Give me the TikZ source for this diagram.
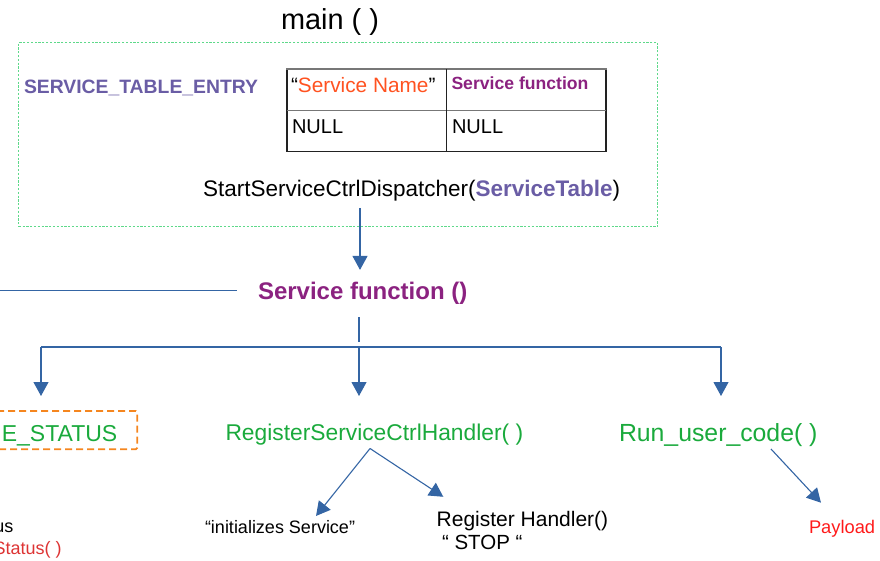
\documentclass[tikz,border=0pt]{standalone}
\usepackage{fontspec}
\setmainfont{Liberation Sans}
\usetikzlibrary{arrows.meta,calc}
\definecolor{linkblue}{HTML}{3465A4}
\definecolor{txtgreen}{HTML}{1AAA3C}
\definecolor{dashorange}{HTML}{F5861F}
\definecolor{fnpurple}{HTML}{8B2280}
\definecolor{stepurple}{HTML}{6A5DA5}
\definecolor{snameorange}{HTML}{FF5220}
\definecolor{payred}{HTML}{FF1A1A}
\definecolor{statred}{HTML}{DD3333}
\definecolor{dotgreen}{HTML}{5ED98A}
\definecolor{tblgrey}{HTML}{777777}
\definecolor{tbldark}{HTML}{222222}
\newcommand\fsz[1]{\fontsize{#1}{#1}\selectfont}
\tikzset{
  lbl/.style={inner sep=0pt, outer sep=0pt, anchor=base west},
  lble/.style={inner sep=0pt, outer sep=0pt, anchor=base east},
  conn/.style={draw=linkblue, line width=1.1pt},
  arr/.style={conn, -{Triangle[length=14pt,width=15pt]}},
  dotbox/.style={draw=dotgreen, line width=1.4pt, dash pattern=on 2.2pt off 1.6pt},
  dashbox/.style={draw=dashorange, line width=1.8pt, dash pattern=on 7pt off 4pt, rounded corners=1.5pt},
  tblline/.style={draw=tbldark, line width=1.2pt},
  tblgreyline/.style={draw=tblgrey, line width=1.4pt},
}
\begin{document}
\begin{tikzpicture}[x=1pt,y=-1pt]
\useasboundingbox (0,0) rectangle (880,561);
\clip (0,0) rectangle (880,561);

% title
\node[lbl, font=\fsz{28.9}] (main) at (281,29.5) {main ( )};

% container box
\node[dotbox, inner sep=0pt, minimum width=639pt, minimum height=184pt, anchor=north west] (mainbox) at (18,42) {};

\node[lbl, font=\fsz{19.35}\bfseries, text=stepurple] (ste) at (24,94) {SERVICE\_TABLE\_ENTRY};

% table
\draw[tblline] (287,69) -- (287,151.7) -- (606,151.7) -- (606,69);
\draw[tblgreyline] (286.4,69) -- (606.6,69);
\draw[tblgreyline] (287,110.7) -- (606,110.7);
\draw[tblline] (446.7,69) -- (446.7,151.7);
\node[lbl, font=\fsz{20.8}] (sname) at (291,93) {“\textcolor{snameorange}{Service Name}”};
\node[lbl, font=\fsz{17.6}\bfseries, text=fnpurple] (sfn) at (451.5,89.3) {Service function};
\node[lbl, font=\fsz{20}] (null1) at (292,134) {NULL};
\node[lbl, font=\fsz{20}] (null2) at (452,134) {NULL};

\node[lbl, font=\fsz{22.5}] (disp) at (203,196.5) {StartServiceCtrlDispatcher(\textbf{\textcolor{stepurple}{ServiceTable}})};

% service function
\node[lbl, font=\fsz{24}\bfseries, text=fnpurple] (svcfn) at (258,299.3) {Service function ()};

\coordinate (dispout) at (360,208);
\draw[arr] (dispout) -- (dispout |- svcfn.north) [shorten >=12pt];
\coordinate (lineL) at (0,290.7);
\draw[conn, shorten >=21pt] (lineL) -- (lineL -| svcfn.west);

\coordinate (trunk) at (359,347);
\coordinate (bl) at (41,347);
\coordinate (br) at (721,347);
\draw[conn] ([yshift=-13.2pt]svcfn.south -| trunk) -- ([yshift=5pt]trunk);
\draw[conn] (bl) -- (br);
\draw[arr] (bl) -- ++(0,49);
\draw[arr] (trunk) -- ++(0,49);
\draw[arr] (br) -- ++(0,49);

% level 2
\draw[dashbox] (-130,411) rectangle (137.3,449.3);
\node[lble, font=\fsz{23}, text=txtgreen] (stat) at (117.3,441.7) {E\_STATUS};
\node[lbl, font=\fsz{22.8}, text=txtgreen] (reg) at (225.5,440.5) {RegisterServiceCtrlHandler( )};
\node[lbl, font=\fsz{24.8}, text=txtgreen] (run) at (619,441.5) {Run\_user\_code( )};

% level 3
\node[lble, font=\fsz{18}] (us) at (13.3,532.7) {us};
\node[lble, font=\fsz{18}, text=statred] (ss) at (61.7,554) {Status( )};
\node[lbl, font=\fsz{18}] (init) at (205,533) {“initializes Service"};
\node[lbl, font=\fsz{21}] (rh) at (436.7,526) {Register Handler()};
\node[lbl, font=\fsz{20.5}] (stop) at (442,549) {“ STOP “};
\node[lbl, font=\fsz{18.3}, text=payred] (pay) at (809,533) {Payload};

\coordinate (regout) at (370,448.5);
\coordinate (runout) at (771,449);
\draw[arr] (regout) -- ($(init.north west)!0.74!(init.north east)+(0,-4)$);
\draw[arr] (regout) -- ($(rh.north west)+(6.6,-14)$);
\draw[arr] (runout) -- ($(pay.north west)+(12,-17)$);
\end{tikzpicture}
\end{document}
